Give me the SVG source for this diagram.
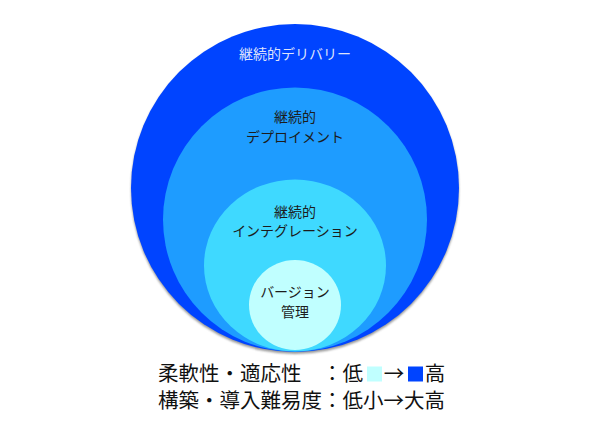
<svg xmlns="http://www.w3.org/2000/svg" width="590" height="442" viewBox="0 0 590 442">
  <defs>
    <filter id="shadow" x="-10%" y="-10%" width="120%" height="120%">
      <feGaussianBlur stdDeviation="1.2"/>
    </filter>
  </defs>
  <style>
    text { font-family: "Noto Sans CJK JP", "Noto Sans", sans-serif; }
    .lbl { font-size: 14px; fill: #1c1c1c; text-anchor: middle; }
    .lblw { font-size: 14px; fill: #dfe3fb; text-anchor: middle; }
    .leg { font-size: 20.5px; fill: #111111; }
    .legc { font-size: 20.5px; fill: #111111; text-anchor: middle; }
  </style>
  <rect width="590" height="442" fill="#ffffff"/>
  <ellipse cx="295" cy="190" rx="164" ry="164" fill="#555555" opacity="0.6" filter="url(#shadow)"/>
  <g id="continuous-delivery">
    <ellipse cx="295" cy="188" rx="164" ry="164" fill="#0044ff"/>
    <text class="lblw" x="295" y="59">継続的デリバリー</text>
  </g>
  <g id="continuous-deployment">
    <ellipse cx="295" cy="219.5" rx="132" ry="132" fill="#1e9cff"/>
    <text class="lbl" x="295" y="122">継続的</text>
    <text class="lbl" x="295" y="142">デプロイメント</text>
  </g>
  <g id="continuous-integration">
    <ellipse cx="295" cy="265.5" rx="91" ry="86" fill="#3fd9ff"/>
    <text class="lbl" x="295" y="217">継続的</text>
    <text class="lbl" x="295" y="236">インテグレーション</text>
  </g>
  <g id="version-control">
    <ellipse cx="295" cy="305" rx="46" ry="45" fill="#c0ffff"/>
    <text class="lbl" x="295" y="297">バージョン</text>
    <text class="lbl" x="295" y="317">管理</text>
  </g>
  <g id="connectors"></g>
  <g id="legend">
    <text class="leg" x="158" y="381">柔軟性・適応性　：低</text>
    <rect x="367" y="366.5" width="15" height="15" fill="#c0ffff"/>
    <text class="legc" x="394" y="381">→</text>
    <rect x="408" y="366.5" width="15" height="15" fill="#0044ff"/>
    <text class="legc" x="435" y="381">高</text>
    <text class="leg" x="158" y="408" textLength="287" lengthAdjust="spacing">構築・導入難易度：低小→大高</text>
  </g>
</svg>
